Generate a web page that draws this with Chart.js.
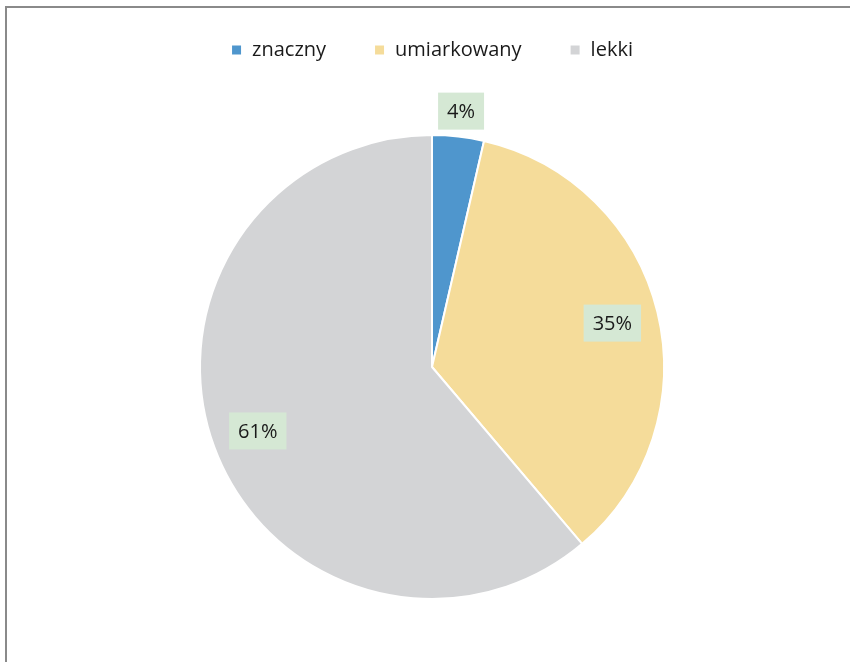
<!DOCTYPE html>
<html>
<head>
<meta charset="utf-8">
<script src="https://cdn.jsdelivr.net/npm/chart.js@4/dist/chart.umd.min.js"></script>
<style>
  body { margin: 0; background: #fff; overflow: hidden; }
  #wrap { position: relative; width: 850px; height: 662px; overflow: hidden; }
  #frame { position: absolute; left: 5px; top: 6px; width: 900px; height: 700px;
           border-top: 2px solid #8a8a8a; border-left: 2px solid #8a8a8a; }
  canvas { position: absolute; left: 0; top: -8px; }
</style>
</head>
<body>
<div id="wrap">
  <div id="frame"></div>
  <canvas id="pie" width="850" height="670"></canvas>
</div>
<script>
// dane wykresu
const categories = ['znaczny', 'umiarkowany', 'lekki'];
const shares = [3.6, 35.2, 61.2];
const shareLabels = ['4%', '35%', '61%'];
const colors = ['#4f96cd', '#f5dc9a', '#d3d4d6'];
const labelDist = [1.11, 0.8, 0.8]; // odległość etykiety względem promienia

const FONT = "'Open Sans', 'Noto Sans', sans-serif";
const LEGEND_H = 142; // miejsce zajmowane przez legendę nad kołem

// legenda z większym odstępem od koła
const legendSpace = {
  id: 'legendSpace',
  beforeInit(chart) {
    const fit = chart.legend.fit;
    chart.legend.fit = function() {
      fit.call(this);
      this.height = LEGEND_H;
    };
  }
};

// etykiety danych z zielonym tłem
const boxLabels = {
  id: 'boxLabels',
  afterDatasetsDraw(chart) {
    const ctx = chart.ctx;
    const meta = chart.getDatasetMeta(0);
    ctx.save();
    ctx.font = '20px ' + FONT;
    ctx.textAlign = 'center';
    ctx.textBaseline = 'middle';
    meta.data.forEach((arc, i) => {
      const mid = (arc.startAngle + arc.endAngle) / 2;
      const r = arc.outerRadius * labelDist[i];
      const x = arc.x + Math.cos(mid) * r;
      const y = arc.y + Math.sin(mid) * r;
      const w = ctx.measureText(shareLabels[i]).width + 18;
      const h = 37;
      ctx.fillStyle = '#d5e8d4';
      ctx.fillRect(x - w / 2, y - h / 2, w, h);
      ctx.fillStyle = '#1a1a1a';
      ctx.fillText(shareLabels[i], x, y + 1);
    });
    ctx.restore();
  }
};

new Chart(document.getElementById('pie'), {
  type: 'pie',
  data: {
    labels: categories,
    datasets: [{
      data: shares,
      backgroundColor: colors,
      borderColor: '#ffffff',
      borderWidth: 2
    }]
  },
  options: {
    responsive: false,
    animation: false,
    layout: { padding: { top: 0, bottom: 62, left: 14, right: 0 } },
    plugins: {
      legend: {
        position: 'top',
        labels: {
          boxWidth: 11,
          boxHeight: 11,
          padding: 48,
          color: '#1a1a1a',
          font: { size: 20, family: FONT }
        }
      },
      tooltip: { enabled: false }
    }
  },
  plugins: [legendSpace, boxLabels]
});
</script>
</body>
</html>
